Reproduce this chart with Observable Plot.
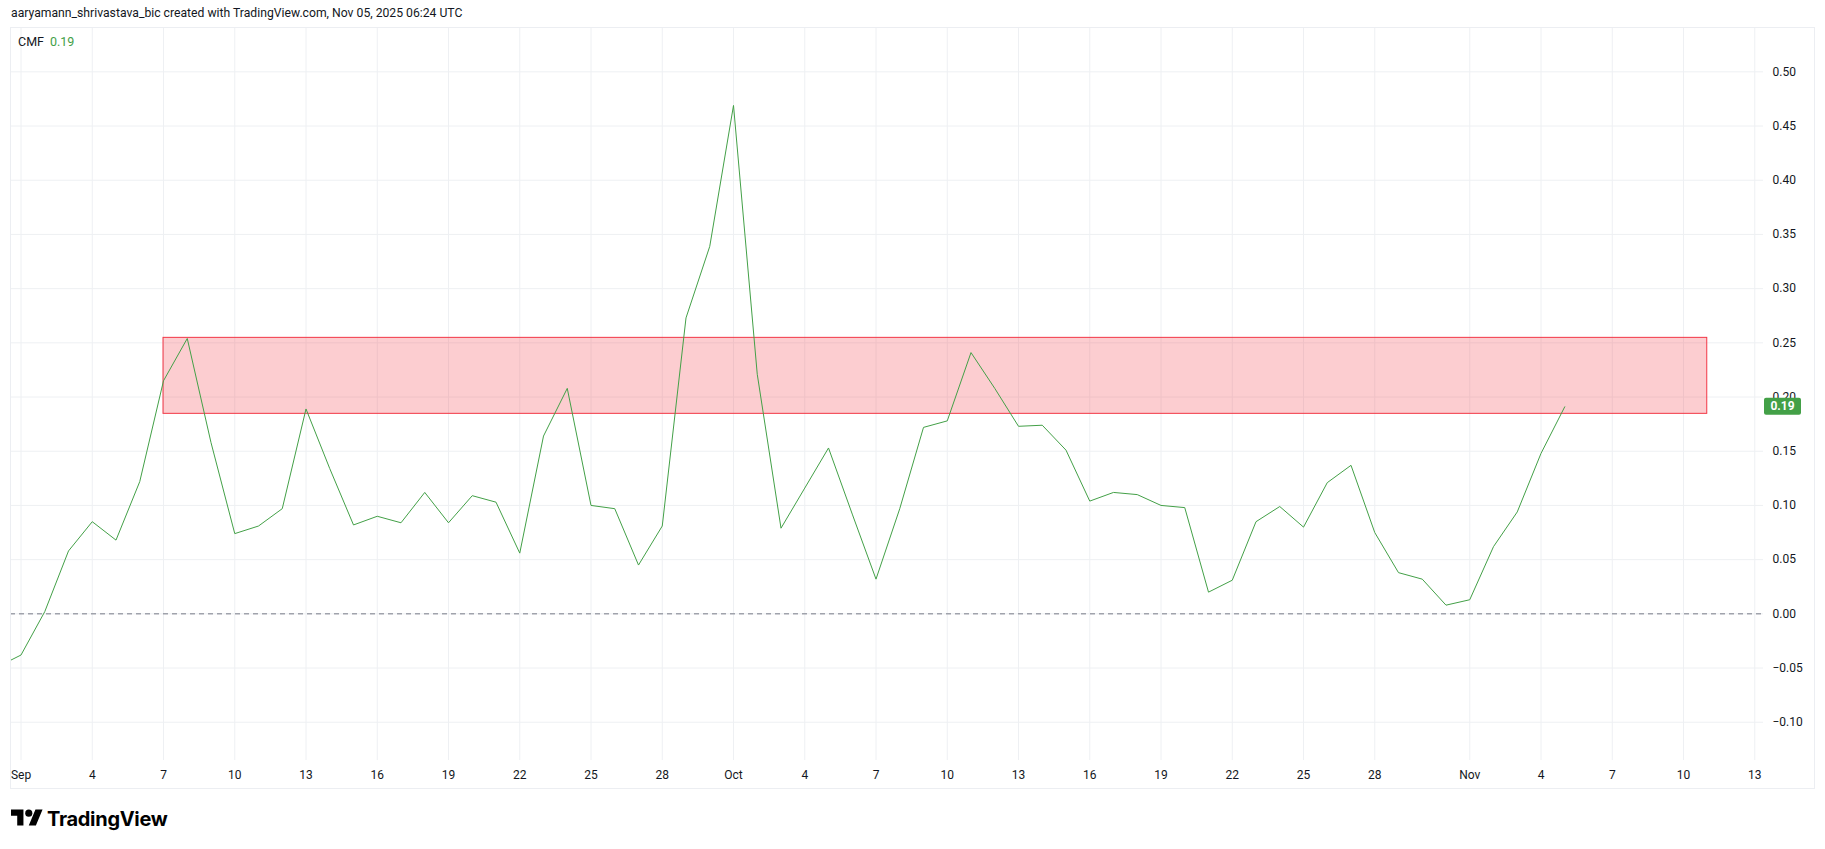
<!DOCTYPE html>
<html>
<head>
<meta charset="utf-8">
<script src="https://cdn.jsdelivr.net/npm/d3@7"></script>
<script src="https://cdn.jsdelivr.net/npm/@observablehq/plot@0.6"></script>
<style>
  html, body { margin: 0; padding: 0; background: #ffffff; }
  body { width: 1825px; height: 849px; position: relative; overflow: hidden;
         font-family: Roboto, "Noto Sans", "DejaVu Sans", sans-serif; color: #131722; }
  #header { position: absolute; left: 11px; top: 5px; font-size: 12.2px; line-height: 16px; white-space: nowrap; }
  #pane { position: absolute; left: 0; top: 27px; }
  #border { position: absolute; left: 10px; top: 27px; width: 1805px; height: 762px;
            border: 1px solid #eceef2; box-sizing: border-box; pointer-events: none; }
  #legend { position: absolute; left: 18px; top: 34px; font-size: 12.5px; line-height: 16px; white-space: nowrap; }
  #legend .v { color: #43a047; margin-left: 6px; }
  #logo { position: absolute; left: 11px; top: 806px; display: flex; align-items: center; }
  #logo span { font-family: Inter, Roboto, sans-serif; font-weight: 700; font-size: 20px; letter-spacing: -0.3px; color: #000; margin-left: 4px; }
</style>
</head>
<body>
<div id="header">aaryamann_shrivastava_bic created with TradingView.com, Nov 05, 2025 06:24 UTC</div>
<div id="pane"></div>
<div id="border"></div>
<div id="legend"><span>CMF</span><span class="v" id="legendValue"></span></div>
<div id="logo">
  <svg width="32" height="25" viewBox="0 0 36 28"><path d="M14 22H7V11H0V4h14v18zM28 22h-8l7.5-18h8L28 22z" fill="#000"/><circle cx="20" cy="8" r="4" fill="#000"/></svg>
  <span>TradingView</span>
</div>
<script>
// ---- data ----
const dates = [
  "2025-08-31",
  "2025-09-01","2025-09-02","2025-09-03","2025-09-04","2025-09-05","2025-09-06","2025-09-07","2025-09-08","2025-09-09","2025-09-10",
  "2025-09-11","2025-09-12","2025-09-13","2025-09-14","2025-09-15","2025-09-16","2025-09-17","2025-09-18","2025-09-19","2025-09-20",
  "2025-09-21","2025-09-22","2025-09-23","2025-09-24","2025-09-25","2025-09-26","2025-09-27","2025-09-28","2025-09-29","2025-09-30",
  "2025-10-01","2025-10-02","2025-10-03","2025-10-04","2025-10-05","2025-10-06","2025-10-07","2025-10-08","2025-10-09","2025-10-10",
  "2025-10-11","2025-10-12","2025-10-13","2025-10-14","2025-10-15","2025-10-16","2025-10-17","2025-10-18","2025-10-19","2025-10-20",
  "2025-10-21","2025-10-22","2025-10-23","2025-10-24","2025-10-25","2025-10-26","2025-10-27","2025-10-28","2025-10-29","2025-10-30",
  "2025-10-31","2025-11-01","2025-11-02","2025-11-03","2025-11-04","2025-11-05"
];
const cmf = [
  -0.049,
  -0.038, 0.002, 0.058, 0.085, 0.068, 0.122, 0.215, 0.254, 0.158, 0.074,
   0.081, 0.097, 0.189, 0.134, 0.082, 0.090, 0.084, 0.112, 0.084, 0.109,
   0.103, 0.056, 0.164, 0.208, 0.100, 0.097, 0.045, 0.081, 0.273, 0.339,
   0.469, 0.221, 0.079, 0.116, 0.153, 0.092, 0.032, 0.097, 0.172, 0.178,
   0.241, 0.208, 0.173, 0.174, 0.151, 0.104, 0.112, 0.110, 0.100, 0.098,
   0.020, 0.031, 0.085, 0.099, 0.080, 0.121, 0.137, 0.075, 0.038, 0.032,
   0.008, 0.013, 0.062, 0.094, 0.148, 0.191
];
const xTickDates = [
  "2025-09-01","2025-09-04","2025-09-07","2025-09-10","2025-09-13","2025-09-16","2025-09-19","2025-09-22","2025-09-25","2025-09-28",
  "2025-10-01","2025-10-04","2025-10-07","2025-10-10","2025-10-13","2025-10-16","2025-10-19","2025-10-22","2025-10-25","2025-10-28",
  "2025-11-01","2025-11-04","2025-11-07","2025-11-10","2025-11-13"
];
const xTickLabels = [
  "Sep","4","7","10","13","16","19","22","25","28",
  "Oct","4","7","10","13","16","19","22","25","28",
  "Nov","4","7","10","13"
];
const yTicks = [-0.10, -0.05, 0.00, 0.05, 0.10, 0.15, 0.20, 0.25, 0.30, 0.35, 0.40, 0.45, 0.50];
const zoneStart = "2025-09-07";
const zoneEnd = "2025-11-11";
const zoneLow = 0.1845;
const zoneHigh = 0.2546;
const viewStart = "2025-08-31T13:23:00Z";
const viewEnd = "2025-11-13T08:50:00Z";
const viewLow = -0.1353;
const viewHigh = 0.5409;

// ---- build ----
const series = dates.map((d, i) => ({date: new Date(d), value: cmf[i]}));
const tickDates = xTickDates.map(d => new Date(d));
const labelMap = new Map(tickDates.map((d, i) => [+d, xTickLabels[i]]));
const zone = [{x1: new Date(zoneStart), x2: new Date(zoneEnd), y1: zoneLow, y2: zoneHigh}];
const last = series[series.length - 1];
const fmt = d3.format(".2f");
document.getElementById("legendValue").textContent = fmt(last.value);

const gridColor = "#eef0f3";
const chart = Plot.plot({
  width: 1825,
  height: 763,
  marginLeft: 10,
  marginRight: 62,
  marginTop: 0,
  marginBottom: 30,
  style: {fontFamily: 'Roboto, "Noto Sans", sans-serif', fontSize: "12px", color: "#131722", background: "transparent", overflow: "visible"},
  x: {type: "utc", domain: [new Date(viewStart), new Date(viewEnd)]},
  y: {domain: [viewLow, viewHigh]},
  marks: [
    Plot.gridY(yTicks, {stroke: gridColor, strokeOpacity: 1}),
    Plot.gridX(tickDates, {stroke: gridColor, strokeOpacity: 1}),
    Plot.rect(zone, {x1: "x1", x2: "x2", y1: "y1", y2: "y2", fill: "#f23645", fillOpacity: 0.25, stroke: "#f23645", strokeWidth: 1}),
    Plot.ruleY([0], {stroke: "#787b86", strokeDasharray: "5,4", strokeWidth: 1}),
    Plot.line(series, {x: "date", y: "value", stroke: "#43a047", strokeWidth: 1, clip: true}),
    Plot.axisY(yTicks, {anchor: "right", tickSize: 0, tickPadding: 9, textAnchor: "start", tickFormat: fmt, fill: "#131722"}),
    Plot.axisX(tickDates, {anchor: "bottom", tickSize: 0, tickPadding: 10, tickFormat: d => labelMap.get(+d), fill: "#131722"})
  ]
});
document.getElementById("pane").appendChild(chart);

// last-value badge on the price scale, positioned via the plot's own y scale
const yPos = chart.scale("y").apply(last.value);
const badge = d3.select(chart).append("g");
badge.append("rect").attr("x", 1764).attr("y", yPos - 8.5).attr("width", 37).attr("height", 17).attr("rx", 2).attr("fill", "#43a047");
badge.append("text").attr("x", 1782.5).attr("y", yPos).attr("dy", "0.35em").attr("text-anchor", "middle")
  .attr("fill", "#ffffff").attr("font-weight", "bold").attr("font-size", 12).text(fmt(last.value));
</script>
</body>
</html>
